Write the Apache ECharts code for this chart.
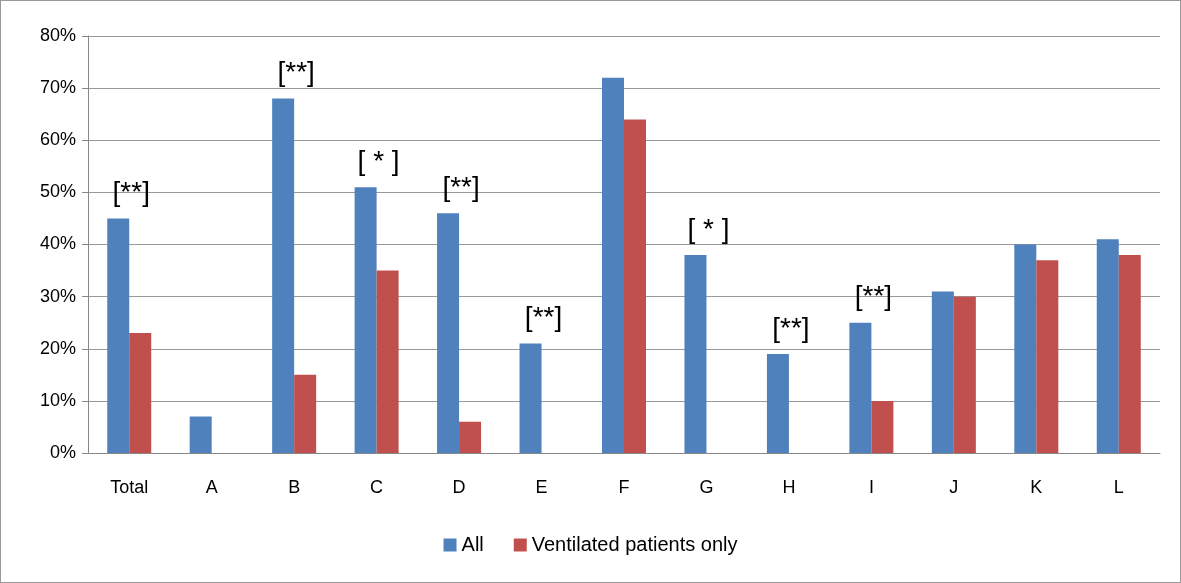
<!DOCTYPE html>
<html><head><meta charset="utf-8">
<script src="https://cdn.jsdelivr.net/npm/echarts@6/dist/echarts.min.js"></script>
<style>html,body{margin:0;background:#fff}#c{width:1181px;height:583px;box-sizing:border-box;border:1px solid #999}</style>
</head><body><div id="c"></div>
<script>
const categories = ['Total', 'A', 'B', 'C', 'D', 'E', 'F', 'G', 'H', 'I', 'J', 'K', 'L']
const allValues = [45, 7, 68, 51, 46, 21, 72, 38, 19, 25, 31, 40, 41]
const ventValues = [23, 0, 15, 35, 6, 0, 64, 0, 0, 10, 30, 37, 38]
const marks = ['[**]', '', '[**]', '[ * ]', '[**]', '[**]', '', '[ * ]', '[**]', '[**]', '', '', '']

const chart = echarts.init(document.getElementById('c'))
const font = 'Liberation Sans, Arial, sans-serif'
chart.setOption({
  animation: false,
  textStyle: { fontFamily: font },
  grid: { left: 87, right: 20, top: 35, bottom: 129 },
  legend: {
    bottom: 22, icon: 'rect', itemWidth: 13, itemHeight: 13, itemGap: 30,
    textStyle: { fontSize: 20, color: '#000', fontFamily: font },
    data: ['All', 'Ventilated patients only']
  },
  xAxis: {
    type: 'category', data: categories,
    axisLine: { lineStyle: { color: '#888' } },
    axisTick: { length: 6, lineStyle: { color: '#888' } },
    axisLabel: { color: '#000', fontSize: 18, margin: 26 }
  },
  yAxis: {
    type: 'value', min: 0, max: 80, interval: 10,
    axisLine: { show: true, lineStyle: { color: '#888' } },
    axisTick: { show: true, length: 6, lineStyle: { color: '#888' } },
    splitLine: { lineStyle: { color: '#999' } },
    axisLabel: { color: '#000', fontSize: 18, formatter: '{value}%', margin: 12 }
  },
  series: [
    {
      name: 'All', type: 'bar', barWidth: 22, barGap: '0%',
      itemStyle: { color: '#4f81bd' },
      data: allValues.map((v, i) => ({
        value: v,
        label: {
          show: marks[i] !== '', formatter: marks[i],
          position: 'top', offset: [13, -6], fontSize: 28, color: '#000', fontFamily: font
        }
      }))
    },
    {
      name: 'Ventilated patients only', type: 'bar', barWidth: 22,
      itemStyle: { color: '#c0504d' },
      data: ventValues
    }
  ]
})
</script></body></html>
